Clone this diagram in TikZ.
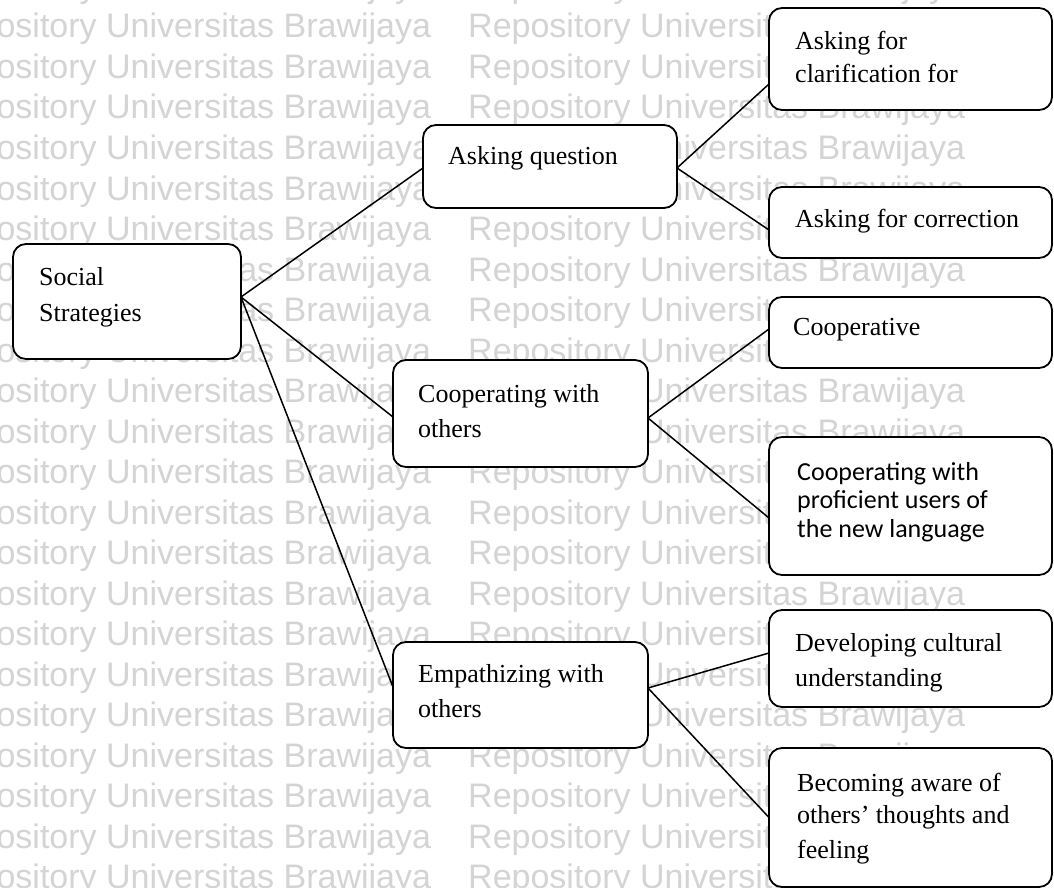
\documentclass[tikz,border=0pt]{standalone}
\usepackage{fontspec}
\setmainfont{Liberation Serif}
\newfontfamily\calibfont{Carlito}
\newfontfamily\wmfont{Liberation Sans}
\usetikzlibrary{calc}
\begin{document}
\begin{tikzpicture}[x=1pt,y=-1pt,
  box/.style={draw, line width=1.8pt, rounded corners=13pt, fill=white, anchor=north west, inner sep=0pt, outer sep=0pt},
  txt/.style={anchor=base west, inner sep=0pt, font=\fontsize{26}{35}\selectfont},
  ctxt/.style={anchor=base west, inner sep=0pt, font=\calibfont\fontsize{26}{29}\selectfont},
  wm/.style={anchor=base west, inner sep=0pt, text=black!17, font=\wmfont\fontsize{34}{40}\selectfont},
  link/.style={line width=1.5pt}]
\useasboundingbox (0,0) rectangle (1054,888);
\fill[white] (0,0) rectangle (1054,888);
% watermark
\foreach \k in {-1,...,21}{
  \node[wm] (wmA\k) at (-66,{38+40.5*\k}) {Repository Universitas Brawijaya};
  \node[wm] (wmB\k) at (468,{38+40.5*\k}) {Repository Universitas Brawijaya};
}
% boxes
\node[box, minimum width=228pt, minimum height=115pt] (social) at (13,244) {};
\node[box, minimum width=254pt, minimum height=83pt]  (askq)   at (423,125) {};
\node[box, minimum width=283pt, minimum height=102pt] (clar)   at (769,8) {};
\node[box, minimum width=283pt, minimum height=71pt]  (corr)   at (769,187) {};
\node[box, minimum width=283pt, minimum height=71pt]  (coop)   at (769,297) {};
\node[box, minimum width=283pt, minimum height=138pt] (prof)   at (769,437) {};
\node[box, minimum width=255pt, minimum height=107pt] (cwo)    at (393,360) {};
\node[box, minimum width=255pt, minimum height=106pt] (emp)    at (393,642) {};
\node[box, minimum width=283pt, minimum height=97pt]  (dev)    at (769,610) {};
\node[box, minimum width=283pt, minimum height=139pt] (beco)   at (769,748) {};
% texts
\node[txt] (t1a) at (39,285) {Social};
\node[txt] (t1b) at (39,321) {Strategies};
\node[txt] (t2)  at (448,164) {Asking question};
\node[txt] (t3a) at (795,50) {Asking for};
\node[txt] (t3b) at (795,83) {clarification for};
\node[txt] (t4)  at (795,227) {Asking for correction};
\node[txt] (t5)  at (793,335) {Cooperative};
\node[ctxt] (t6a) at (797,480) {Cooperating with};
\node[ctxt] (t6b) at (797,508) {proficient users of};
\node[ctxt] (t6c) at (797,537) {the new language};
\node[txt] (t7a) at (418,402) {Cooperating with};
\node[txt] (t7b) at (418,437) {others};
\node[txt] (t8a) at (418,682) {Empathizing with};
\node[txt] (t8b) at (418,717) {others};
\node[txt] (t9a) at (795,651) {Developing cultural};
\node[txt] (t9b) at (795,686) {understanding};
\node[txt] (t10a) at (797,791) {Becoming aware of};
\node[txt] (t10b) at (797,823) {others’ thoughts and};
\node[txt] (t10c) at (797,858) {feeling};
% links
\draw[link] ([yshift=4.5pt]social.east) -- ([yshift=-1.5pt]askq.west);
\draw[link] ([yshift=4.5pt]social.east) -- ([yshift=-3.5pt]cwo.west);
\draw[link] ([yshift=4.5pt]social.east) -- ([yshift=8pt]emp.west);
\draw[link] ([yshift=-1.5pt]askq.east) -- ([yshift=-25pt]clar.west);
\draw[link] ([yshift=-1.5pt]askq.east) -- ([yshift=-7.5pt]corr.west);
\draw[link] ([yshift=-4.5pt]cwo.east) -- ([yshift=3.5pt]coop.west);
\draw[link] ([yshift=-4.5pt]cwo.east) -- ([yshift=-12pt]prof.west);
\draw[link] ([yshift=7pt]emp.east) -- ([yshift=5.5pt]dev.west);
\draw[link] ([yshift=7pt]emp.east) -- (beco.west);
\end{tikzpicture}
\end{document}
